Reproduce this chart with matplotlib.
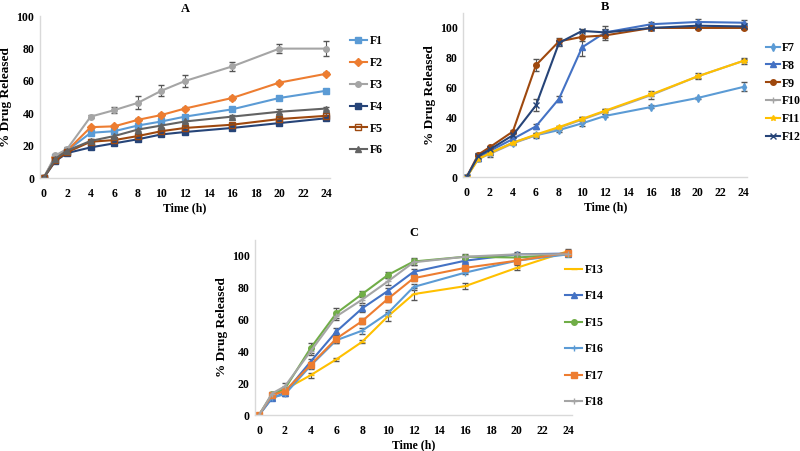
import numpy as np
import matplotlib
matplotlib.use('Agg')
import matplotlib.pyplot as plt

plt.rcParams['font.family'] = ['Liberation Serif', 'DejaVu Serif']
plt.rcParams['font.weight'] = 'bold'

time_h = [0, 1, 2, 4, 6, 8, 10, 12, 16, 20, 24]

# Panel A
f1 = [0, 13, 17, 28, 29, 32.5, 35, 38, 42.5, 49.5, 54]
f2 = [0, 13, 17, 31.5, 32, 36, 39, 43, 49.5, 59, 64.5]
f3 = [0, 14, 18, 38, 42, 46.5, 54, 60, 69, 80, 80]
f4 = [0, 10.5, 15.5, 19, 21.5, 24, 27, 28.5, 31, 34, 37]
f5 = [0, 11, 16, 22.5, 23.5, 26, 29, 31, 33, 36.5, 38.5]
f6 = [0, 12, 17, 23, 26, 30, 32.5, 35, 38, 41, 43]
f1_err = [0, 1, 1, 1, 1, 1, 1, 1, 1, 1, 1]
f2_err = [0, 1, 1, 1, 1, 1, 1, 1, 1, 1, 1]
f3_err = [0, 1, 1, 1, 2, 4, 3.5, 3.5, 3, 3, 4.5]
f4_err = [0, 1, 1, 1, 1, 1, 1, 1, 1, 1, 1]
f5_err = [0, 1, 1, 1, 1, 1, 1, 1, 1, 1.5, 1.5]
f6_err = [0, 1, 1, 1, 1, 1, 1, 1, 1, 1.5, 1]

# Panel B
f7 = [0, 13, 16, 23, 28, 31.5, 36, 41, 47, 53, 60.5]
f8 = [0, 13, 17.5, 25.5, 34, 52.5, 87, 97, 102.5, 104, 103.5]
f9 = [0, 15, 20, 30.5, 75, 91, 94, 95, 100, 100, 100]
f10 = [0, 12, 15.5, 22.5, 28, 33, 38.5, 44, 55, 67.5, 78]
f11 = [0, 12, 16, 23, 28.5, 33.5, 39, 44.5, 55.5, 67.5, 78]
f12 = [0, 14, 18.5, 28, 48, 90, 98, 97, 100, 101.5, 101]
f7_err = [0, 1, 1, 1, 1, 1, 1.5, 1, 1, 1, 3]
f8_err = [0, 1, 1, 1, 1.5, 2, 6, 2, 1.5, 2, 1.5]
f9_err = [0, 1, 1, 1, 4, 2, 3, 3, 1, 1, 1]
f10_err = [0, 1, 2, 1, 1.5, 1.5, 2, 1.5, 3, 2, 2]
f11_err = [0, 1, 1, 1, 1, 1, 1, 1, 1, 1, 1]
f12_err = [0, 1, 1, 1, 4, 2, 1, 4, 1.5, 2, 2]

# Panel C
f13 = [0, 12, 16, 25, 35, 46, 62, 76, 81, 92.5, 103]
f14 = [0, 10.5, 14, 33.5, 52.5, 67, 78, 90, 97, 101, 101.5]
f15 = [0, 13, 16.5, 42, 64, 76, 88, 96.5, 99.5, 99, 101]
f16 = [0, 11, 13, 31, 47, 53, 64, 80.5, 89.5, 97, 101]
f17 = [0, 12.5, 15, 31.5, 48, 59, 73, 86, 92.5, 97, 102]
f18 = [0, 13.5, 18, 40, 62, 72.5, 84, 96, 99.5, 101, 101]
f13_err = [0, 1, 1, 1.5, 1, 1, 3, 4, 2, 1.5, 1.5]
f14_err = [0, 1, 1, 2, 2, 2, 2, 2, 1, 1, 1]
f15_err = [0, 1, 1, 3, 3, 2, 2, 2, 1, 1, 1]
f16_err = [0, 1, 1, 2, 2, 2, 2, 2, 1, 1, 1]
f17_err = [0, 1, 1, 2, 3, 2, 2, 2, 1, 1.5, 1]
f18_err = [0, 1, 2, 2, 2, 2, 2, 2, 1.5, 1.5, 1]

panel_a = [
    ('F1', f1, f1_err, '#5B9BD5', 's', 'full'),
    ('F2', f2, f2_err, '#ED7D31', 'D', 'full'),
    ('F3', f3, f3_err, '#A5A5A5', 'o', 'full'),
    ('F4', f4, f4_err, '#264478', 's', 'full'),
    ('F5', f5, f5_err, '#9E480E', 's', 'none'),
    ('F6', f6, f6_err, '#636363', '^', 'full'),
]
panel_b = [
    ('F7', f7, f7_err, '#5B9BD5', 'd', 'full'),
    ('F8', f8, f8_err, '#4472C4', '^', 'full'),
    ('F9', f9, f9_err, '#9E480E', 'o', 'full'),
    ('F10', f10, f10_err, '#A5A5A5', '+', 'full'),
    ('F11', f11, f11_err, '#FFC000', '*', 'full'),
    ('F12', f12, f12_err, '#264478', 'x', 'full'),
]
panel_c = [
    ('F13', f13, f13_err, '#FFC000', '_', 'full'),
    ('F14', f14, f14_err, '#4472C4', '^', 'full'),
    ('F15', f15, f15_err, '#70AD47', 'o', 'full'),
    ('F16', f16, f16_err, '#5B9BD5', '+', 'full'),
    ('F17', f17, f17_err, '#ED7D31', 's', 'full'),
    ('F18', f18, f18_err, '#A5A5A5', '+', 'full'),
]


def draw_panel(ax, series, title, ymax, title_pad, legend_box, spacing, hlen):
    for name, vals, err, color, marker, fill in series:
        ax.errorbar(time_h, vals, yerr=err, color=color, marker=marker,
                    markersize=4, fillstyle=fill, linewidth=1.5,
                    ecolor='#555555', elinewidth=0.8, capsize=2, label=name)
    ax.set_xlim(-0.3, 24.3)
    ax.set_ylim(0, ymax)
    ax.set_xticks(np.arange(0, 25, 2))
    ax.set_yticks(np.arange(0, 101, 20))
    for side in ['top', 'right']:
        ax.spines[side].set_visible(False)
    for side in ['left', 'bottom']:
        ax.spines[side].set_color('#D9D9D9')
        ax.spines[side].set_linewidth(1.0)
    ax.tick_params(axis='x', length=0, labelsize=8.5, pad=7)
    ax.tick_params(axis='y', length=0, labelsize=8.5, pad=4)
    for lbl in ax.get_xticklabels() + ax.get_yticklabels():
        lbl.set_fontweight('bold')
    ax.set_xlabel('Time (h)', fontsize=8.5, fontweight='bold', labelpad=2)
    ax.set_ylabel('% Drug Released', fontsize=9.5, fontweight='bold', labelpad=3)
    ax.set_title(title, fontsize=9, fontweight='bold', pad=title_pad)
    handles, labels = ax.get_legend_handles_labels()
    handles = [h[0] for h in handles]
    leg = ax.figure.legend(handles, labels, loc='upper left',
                           bbox_to_anchor=legend_box, frameon=False,
                           prop={'family': 'Liberation Serif', 'weight': 'bold', 'size': 8.5},
                           handlelength=hlen, handletextpad=0.2,
                           labelspacing=spacing, borderaxespad=0)
    return leg


fig = plt.figure(figsize=(8, 4.51), dpi=100)
ax_a = fig.add_axes([0.05, 0.605, 0.3625, 0.359])
ax_b = fig.add_axes([0.579, 0.6075, 0.355, 0.3636])
ax_c = fig.add_axes([0.319, 0.0798, 0.396, 0.388])

draw_panel(ax_a, panel_a, 'A', 100, 3, (0.431, 0.932), 0.83, 1.5)
draw_panel(ax_b, panel_b, 'B', 110, 1, (0.951, 0.918), 0.5, 1.2)
draw_panel(ax_c, panel_c, 'C', 110, 3, (0.700, 0.425), 1.22, 1.5)

fig.savefig('out.png', dpi=100)
